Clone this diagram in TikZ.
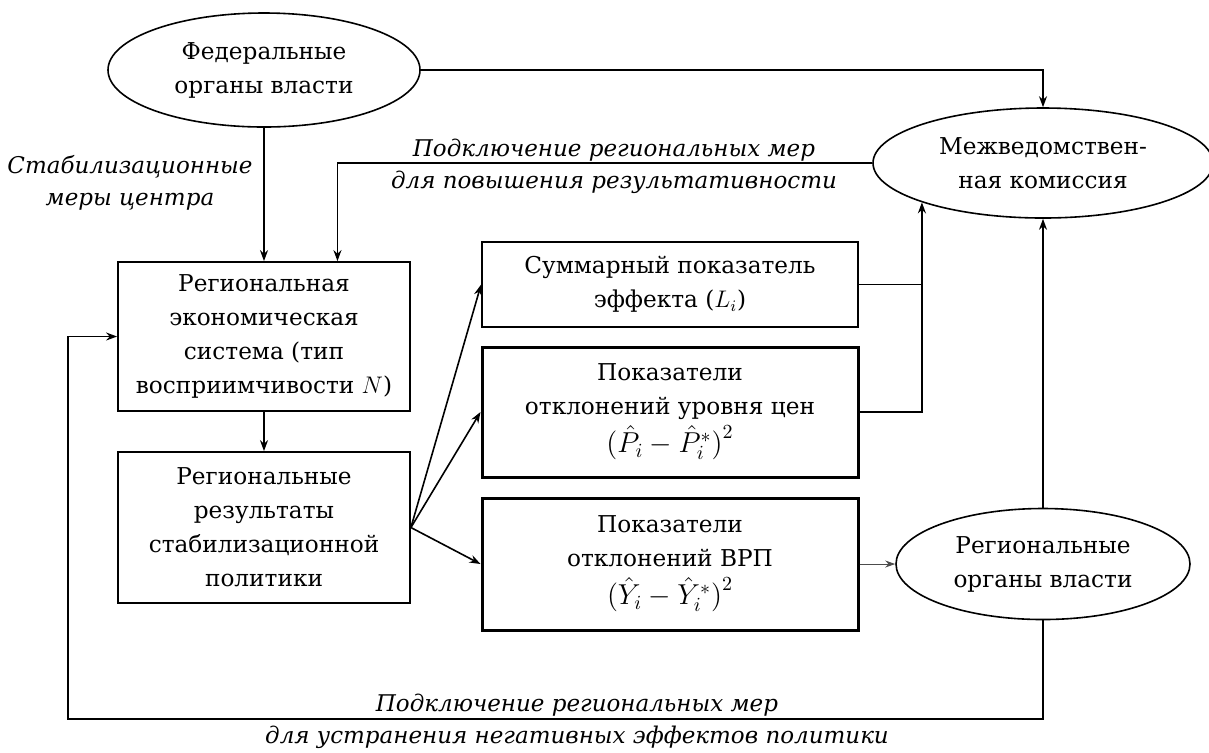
\documentclass[tikz,border=0pt]{standalone}
\usepackage{fontspec}
\setmainfont{DejaVu Serif}
\usetikzlibrary{shapes.geometric,arrows.meta,calc}
\newcommand{\fmla}{\fontsize{14}{17}\selectfont}
\begin{document}
\begin{tikzpicture}[x=0.5pt,y=-0.5pt,
  every node/.style={font=\fontsize{11.6}{17}\selectfont, align=center, inner sep=0pt},
  oval/.style={draw, ellipse, line width=0.8pt},
  box/.style={draw, rectangle, line width=0.9pt},
  thickbox/.style={draw, rectangle, line width=1.5pt},
  lbl/.style={font=\fontsize{11.5}{16}\selectfont\itshape},
  arr/.style={-{Stealth[length=5.5pt,width=4pt]}, line width=0.8pt},
  ln/.style={line width=0.9pt}]
\useasboundingbox (0,0) rectangle (1209,752);

% nodes
\node[oval, minimum width=156pt, minimum height=57pt] (fed) at (264,70) {Федеральные\\органы власти};
\node[oval, minimum width=170pt, minimum height=55pt] (com) at (1043,163) {Межведомствен-\\ная комиссия};
\node[oval, minimum width=147pt, minimum height=55.5pt] (reg) at (1043,564) {Региональные\\органы власти};

\node[box, minimum width=146pt, minimum height=74.5pt] (econ) at (264,336.5) {Региональная\\экономическая\\система (тип\\восприимчивости $N$)};
\node[box, minimum width=146pt, minimum height=75.5pt] (res) at (264,527.5) {Региональные\\результаты\\стабилизационной\\политики};

\node[box, minimum width=188pt, minimum height=42.5pt] (sum) at (670,284.5) {Суммарный показатель\\эффекта ($L_i$)};
\node[thickbox, minimum width=188pt, minimum height=65pt] (price) at (670,412) {Показатели\\отклонений уровня цен\\[2pt]{\fmla$\bigl(\hat{P}_i-\hat{P}_i^{*}\bigr)^2$}};
\node[thickbox, minimum width=188pt, minimum height=66pt] (vrp) at (670,564) {Показатели\\отклонений ВРП\\[2pt]{\fmla$\bigl(\hat{Y}_i-\hat{Y}_i^{*}\bigr)^2$}};

% labels
\node[lbl] (l1) at (130,183) {Стабилизационные\\меры центра};
\node[lbl] (l2) at (614,166) {Подключение региональных мер\\для повышения результативности};
\node[lbl] (l3) at (577,721) {Подключение региональных мер\\для устранения негативных эффектов политики};

% connectors
\draw[arr] (fed.south) -- (econ.north);
\draw[arr] (fed.east) -| (com.north);
\coordinate (econIn) at ($(econ.north)!0.5!(econ.north east)$);
\draw[arr] (com.west) -| (econIn);
\draw[arr] (econ.south) -- (res.north);

\draw[arr] (res.east) -- (sum.west);
\draw[arr] (res.east) -- (price.west);
\draw[arr] (res.east) -- (vrp.west);

\coordinate (comIn) at (com.198);
\draw[ln] (sum.east) -- (sum.east -| comIn);
\draw[arr] (price.east) -| (comIn);

\draw[arr] (reg.north) -- (com.south);
\draw[-{Stealth[length=5pt,width=3.5pt]}, line width=0.5pt, black!70] (vrp.east) -- (reg.west);

\coordinate (fbL) at (68,719);
\draw[arr] (reg.south) |- (fbL) |- (econ.west);
\end{tikzpicture}
\end{document}
